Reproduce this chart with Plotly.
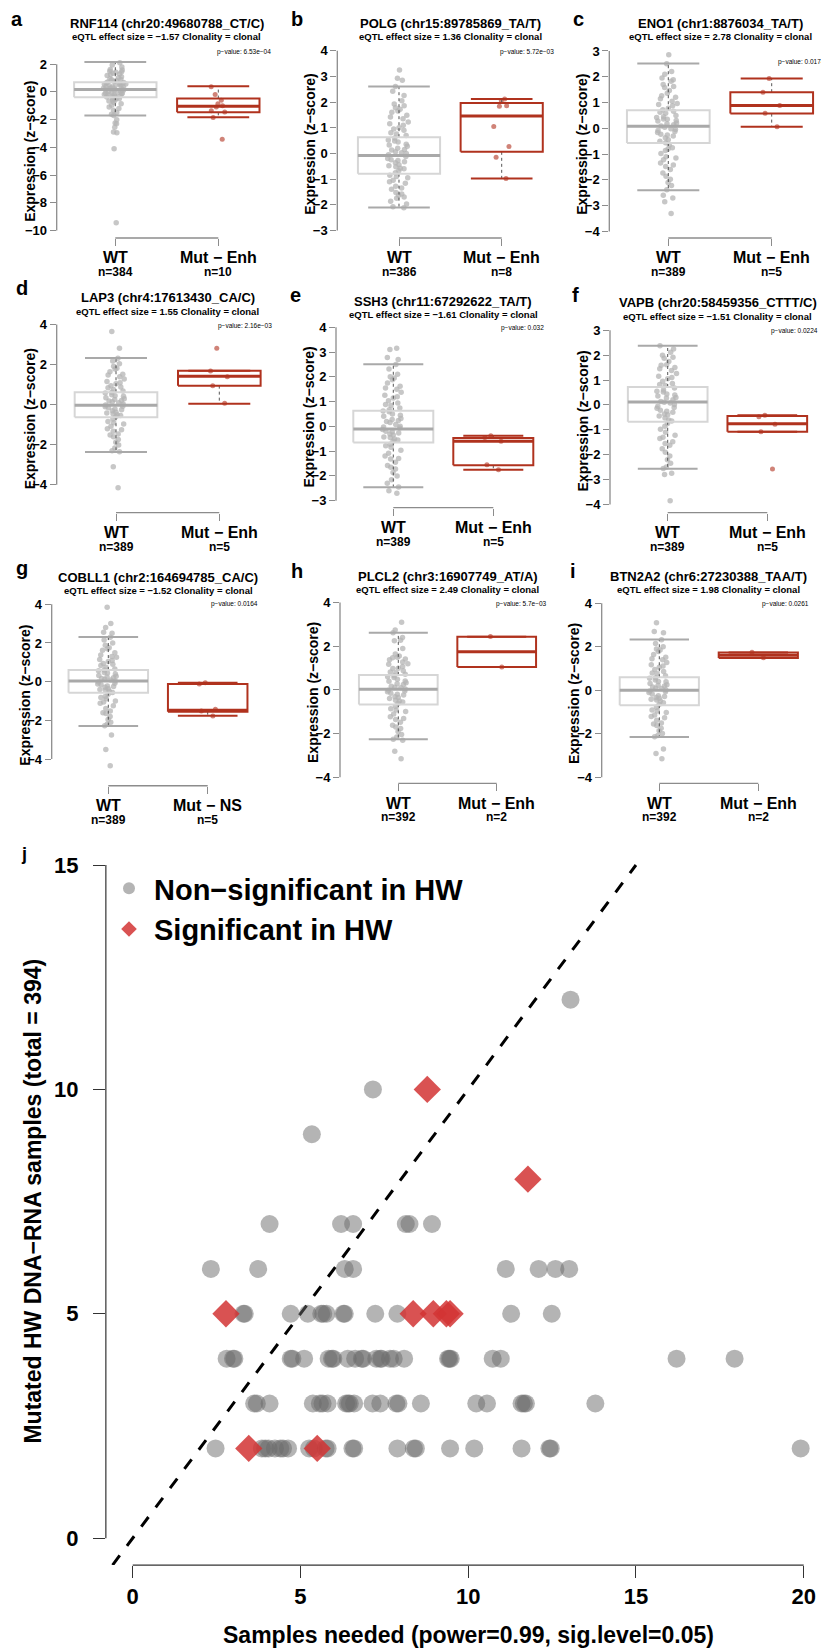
import plotly.graph_objects as go

# page is 829x1651; the browser adds an 8px body margin, so the figure is drawn 8px in
PAGE_W, PAGE_H, OFF = 829, 1651, 8
W, H = PAGE_W - OFF, PAGE_H - OFF
FONT = "Liberation Sans, Arial, Helvetica, sans-serif"

# ------------------------------------------------------------------ data
letters = ["a", "b", "c", "d", "e", "f", "g", "h", "i"]
genes = ["RNF114 (chr20:49680788_CT/C)", "POLG (chr15:89785869_TA/T)", "ENO1 (chr1:8876034_TA/T)",
         "LAP3 (chr4:17613430_CA/C)", "SSH3 (chr11:67292622_TA/T)", "VAPB (chr20:58459356_CTTT/C)",
         "COBLL1 (chr2:164694785_CA/C)", "PLCL2 (chr3:16907749_AT/A)", "BTN2A2 (chr6:27230388_TAA/T)"]
effects = ["−1.57", "1.36", "2.78", "1.55", "−1.61", "−1.51", "−1.52", "2.49", "1.98"]
pvalues = ["6.53e−04", "5.72e−03", "0.0174", "2.16e−03", "0.032", "0.0224", "0.0164", "5.7e−03", "0.0261"]
group_labels = ["WT", "Mut − Enh"]
mut_labels = ["Mut − Enh", "Mut − Enh", "Mut − Enh", "Mut − Enh", "Mut − Enh", "Mut − Enh",
              "Mut − NS", "Mut − Enh", "Mut − Enh"]
n_wt = [384, 386, 389, 389, 389, 389, 389, 392, 392]
n_mut = [10, 8, 5, 5, 5, 5, 5, 2, 2]
y_ticks = [[-10, -8, -6, -4, -2, 0, 2], [-3, -2, -1, 0, 1, 2, 3, 4], [-4, -3, -2, -1, 0, 1, 2, 3],
           [-4, -2, 0, 2, 4], [-3, -2, -1, 0, 1, 2, 3, 4], [-4, -3, -2, -1, 0, 1, 2, 3],
           [-4, -2, 0, 2, 4], [-4, -2, 0, 2, 4], [-4, -2, 0, 2, 4]]

# box statistics: (lower whisker, q1, median, q3, upper whisker)
wt_stats = [(-1.71, -0.38, 0.17, 0.70, 2.16), (-2.11, -0.79, -0.08, 0.63, 2.60),
            (-2.40, -0.57, 0.08, 0.70, 2.51), (-2.36, -0.63, -0.03, 0.62, 2.33),
            (-2.46, -0.65, -0.11, 0.63, 2.51), (-2.57, -0.68, 0.12, 0.72, 2.38),
            (-2.29, -0.57, 0.03, 0.60, 2.31), (-2.26, -0.66, 0.03, 0.69, 2.62),
            (-2.14, -0.69, 0.00, 0.60, 2.33)]
mut_stats = [(-1.83, -1.47, -1.03, -0.48, 0.41), (-0.98, 0.06, 1.46, 1.96, 2.12),
             (0.06, 0.57, 0.88, 1.40, 1.93), (0.05, 0.95, 1.42, 1.70, 1.70),
             (-1.75, -1.57, -0.60, -0.47, -0.38), (-1.08, -1.08, -0.76, -0.45, -0.42),
             (-1.76, -1.55, -1.48, -0.12, -0.05), (1.05, 1.05, 1.75, 2.44, 2.44),
             (1.48, 1.48, 1.61, 1.74, 1.74)]

mut_values = [[0.38, -0.18, -0.60, -0.85, -1.00, -1.08, -1.35, -1.45, -1.85, -3.42],
              [2.12, 2.05, 1.85, 1.84, 1.05, 0.27, -0.15, -0.98],
              [1.93, 1.40, 0.88, 0.58, 0.06],
              [2.82, 1.68, 1.40, 0.95, 0.07],
              [-0.38, -0.45, -0.60, -1.55, -1.75],
              [-0.42, -0.48, -0.78, -1.08, -2.58],
              [-0.05, -0.12, -1.42, -1.52, -1.78],
              [2.45, 1.05],
              [1.75, 1.50]]

wt_values = [
    [2.10, 1.95, 1.80, 1.62, 1.50, 1.42, 1.35, 1.25, 1.18, 1.10, 1.02, 0.95, 0.88, 0.82, 0.76, 0.72,
     0.68, 0.62, 0.58, 0.52, 0.47, 0.42, 0.38, 0.33, 0.29, 0.25, 0.21, 0.18,
     0.15, 0.10, 0.05, 0.01, -0.04, -0.09, -0.14, -0.19, -0.24, -0.29, -0.33, -0.37,
     -0.42, -0.50, -0.58, -0.66, -0.75, -0.85, -0.96, -1.08, -1.20, -1.33, -1.48, -1.62, -1.70,
     -2.00, -2.25, -2.30, -2.55, -2.90, -2.95, -4.10, -9.45, 1.45, 0.55, 0.35, -0.10, -0.30, 0.90,
     1.30, 0.64, 0.44, 0.27, 0.12, -0.02, -0.21, -0.45, -0.62, 1.58],
    [2.60, 2.42, 2.25, 2.05, 1.92, 1.85, 1.72, 1.60, 1.48, 1.35, 1.22, 1.10, 1.00, 0.90, 0.80, 0.70,
     3.25, 2.93, 2.85, 0.60, 0.52, 0.44, 0.36, 0.28, 0.20, 0.13, 0.06, 0.00, -0.05,
     -0.12, -0.20, -0.28, -0.36, -0.44, -0.52, -0.60, -0.68, -0.75,
     -0.85, -0.95, -1.05, -1.16, -1.28, -1.40, -1.52, -1.63, -1.75, -1.86, -1.97, -2.08, -2.12,
     0.48, 0.15, -0.33, -0.58, 1.15, -1.10, 1.78, -1.70, 0.95, 1.42, 0.33, -0.25, -0.90, -1.35,
     0.75, 0.02, -0.48, 1.65, -1.58],
    [2.50, 2.20, 2.10, 1.95, 1.82, 1.70, 1.58, 1.47, 1.36, 1.26, 1.15, 1.05, 0.96, 0.87, 0.78, 0.72,
     2.85, 0.66, 0.58, 0.50, 0.42, 0.35, 0.28, 0.21, 0.14, 0.09, 0.04, -0.02, -0.09, -0.16, -0.23,
     -0.30, -0.37, -0.44, -0.50, -0.56, 0.30, -0.12,
     -0.65, -0.75, -0.86, -0.98, -1.10, -1.22, -1.35, -1.48, -1.60, -1.73, -1.86, -1.98, -2.10,
     -2.22, -2.38, -2.60, -2.70, -2.85, -3.30, 1.62, -1.42, 0.45, 1.20, 0.62, 0.18, -0.26, -0.80,
     1.88, -0.05, 0.92, -1.15, 0.36],
    [2.32, 2.18, 2.05, 1.92, 1.78, 1.65, 1.52, 1.40, 1.28, 1.16, 1.05, 0.95, 0.85, 0.76, 0.68,
     3.65, 2.82, 0.58, 0.50, 0.42, 0.34, 0.26, 0.18, 0.10, 0.03, -0.02, -0.08, -0.15, -0.22, -0.30,
     -0.38, -0.46, -0.54, -0.61, 0.21, -0.26,
     -0.72, -0.84, -0.96, -1.08, -1.20, -1.33, -1.46, -1.60, -1.74, -1.88, -2.02, -2.16, -2.30,
     -2.35, -3.10, -4.15, 1.10, -1.25, 0.45, -0.50, 1.48, 0.62, 0.14, -0.11, -0.42, -0.90, 1.82,
     -1.52, 0.30, 0.88],
    [2.50, 2.32, 2.10, 2.00, 1.88, 1.75, 1.62, 1.50, 1.38, 1.26, 1.15, 1.04, 0.94, 0.84, 0.74, 0.67,
     3.15, 3.10, 2.78, 2.70, 0.59, 0.50, 0.41, 0.32, 0.24, 0.16, 0.08, 0.01, -0.06, -0.13, -0.20,
     -0.27, -0.35, -0.43, -0.51, -0.59, 0.20, -0.31,
     -0.72, -0.84, -0.96, -1.08, -1.20, -1.32, -1.45, -1.58, -1.72, -1.86, -2.00, -2.15, -2.30,
     -2.45, -2.60, -2.70, 1.20, -1.30, 0.45, -0.45, 1.55, 0.88, 0.28, -0.02, -0.22, -0.78, 1.95,
     -1.65, 0.62, -0.55],
    [2.38, 2.25, 2.12, 2.00, 1.88, 1.75, 1.62, 1.50, 1.38, 1.26, 1.15, 1.05, 0.95, 0.86, 0.78,
     0.68, 0.60, 0.52, 0.44, 0.36, 0.28, 0.21, 0.14, 0.08, 0.02, -0.05, -0.13, -0.21, -0.29, -0.37,
     -0.45, -0.53, -0.61, 0.40, -0.25,
     -0.75, -0.86, -0.98, -1.10, -1.22, -1.35, -1.48, -1.62, -1.76, -1.90, -2.05, -2.20, -2.35,
     -2.50, -2.56, -2.75, -2.80, -3.85, 1.45, -1.55, 0.30, -0.40, 1.60, 1.10, 0.55, 0.11, -0.10,
     -0.65, 1.92, -1.30, 0.82],
    [2.30, 2.15, 2.00, 1.88, 1.75, 1.62, 1.50, 1.38, 1.26, 1.15, 1.04, 0.94, 0.84, 0.75, 0.66,
     3.85, 3.00, 2.80, 2.55, 2.50, 0.56, 0.48, 0.40, 0.32, 0.24, 0.16, 0.09, 0.04, -0.02, -0.08,
     -0.15, -0.22, -0.29, -0.36, -0.43, -0.50, -0.56, 0.20, -0.25,
     -0.65, -0.76, -0.88, -1.00, -1.12, -1.25, -1.38, -1.51, -1.65, -1.80, -1.95, -2.10, -2.20,
     -2.28, -2.75, -3.50, -4.35, 1.30, -1.60, 0.45, 1.70, 0.90, 0.12, -0.12, -0.40, -0.82, 1.10,
     0.60, -1.05, 0.28],
    [2.62, 2.40, 2.28, 2.25, 1.90, 1.65, 1.55, 1.48, 1.38, 1.28, 1.18, 1.08, 0.98, 0.88, 0.79, 0.72,
     3.10, 2.75, 0.65, 0.57, 0.49, 0.41, 0.33, 0.25, 0.17, 0.10, 0.05, -0.01, -0.08, -0.15, -0.23,
     -0.31, -0.39, -0.47, -0.55, -0.62, 0.28, -0.20,
     -0.74, -0.86, -0.98, -1.10, -1.22, -1.35, -1.48, -1.62, -1.76, -1.90, -2.04, -2.15, -2.25,
     -2.30, -2.80, -3.15, 1.50, 1.42, -1.70, 0.40, 1.20, 0.82, 0.13, -0.05, -0.35, -0.92, 0.60,
     -1.30, 1.00, -0.50],
    [2.32, 2.15, 2.00, 1.90, 1.78, 1.65, 1.52, 1.40, 1.28, 1.17, 1.06, 0.96, 0.86, 0.76, 0.67,
     3.10, 2.70, 2.65, 0.55, 0.47, 0.39, 0.31, 0.23, 0.15, 0.08, 0.02, -0.03, -0.10, -0.17, -0.25,
     -0.33, -0.41, -0.49, -0.57, -0.65, 0.20, -0.28,
     -0.78, -0.90, -1.02, -1.14, -1.26, -1.38, -1.50, -1.62, -1.74, -1.86, -1.98, -2.08, -2.13,
     -2.70, -2.90, -3.15, 1.85, -1.20, 0.40, -0.45, 1.45, 0.80, 0.10, -0.07, -0.37, -0.95, 1.12,
     -1.55, 0.58, 0.26],
]

# panel j data
ns_x = [2.47, 3.85, 3.95, 4.05, 4.24, 4.40, 4.48, 4.63, 5.26, 5.40, 5.75, 5.81, 6.55, 6.60, 7.89,
        8.38, 8.44, 9.46, 10.18, 11.59, 12.42, 12.46, 19.91,
        3.62, 3.70, 4.08, 5.37, 5.58, 5.66, 5.81, 6.36, 6.42, 6.47, 6.60, 7.15, 7.38, 7.86, 7.92,
        8.59, 10.24, 10.56, 11.59, 11.66, 11.72, 13.79,
        2.80, 2.99, 3.03, 4.71, 4.76, 5.11, 5.84, 5.94, 5.98, 6.41, 6.63, 6.83, 6.87, 7.26, 7.38,
        7.42, 7.67, 7.78, 8.09, 9.40, 9.44, 9.48, 10.73, 10.97, 16.21, 17.94,
        3.30, 3.34, 4.71, 5.22, 5.62, 5.68, 5.78, 6.28, 6.32, 7.23, 7.89, 11.28, 12.49,
        2.33, 3.74, 6.32, 6.57, 11.12, 12.10, 12.60, 13.01,
        4.08, 6.21, 6.57, 8.14, 8.25, 8.92,
        5.34, 7.16, 13.05]
ns_y = [2] * 23 + [3] * 22 + [4] * 26 + [5] * 13 + [6] * 8 + [7] * 6 + [9, 10, 12]
sig_x = [2.78, 8.36, 8.96, 9.35, 9.46, 3.46, 5.50, 11.78, 8.78]
sig_y = [5, 5, 5, 5, 5, 2, 2, 8, 10]
j_xticks = [0, 5, 10, 15, 20]
j_yticks = [0, 5, 10, 15]
j_xrange = [-0.8, 20.6]
j_yrange = [-0.6, 15.6]

# ------------------------------------------------------------------ geometry (page pixels)
geom = [
    dict(ax=56.7, c1=115.3, c2=218.3, tt=64.3, tb=230.7, br=238.3, ti=23.3, su=36.5, pv=51.7, lx=17.3, ly=19.0),
    dict(ax=337.3, c1=399.0, c2=501.7, tt=50.7, tb=230.7, br=238.3, ti=23.3, su=36.5, pv=51.7, lx=296.7, ly=19.0),
    dict(ax=609.3, c1=668.3, c2=771.7, tt=51.0, tb=231.7, br=238.3, ti=23.3, su=36.5, pv=62.5, lx=578.3, ly=19.0),
    dict(ax=56.7, c1=116.0, c2=219.3, tt=325.0, tb=485.3, br=513.3, ti=297.5, su=311.5, pv=326.7, lx=21.7, ly=288.3),
    dict(ax=336.0, c1=393.3, c2=493.3, tt=327.7, tb=501.3, br=508.3, ti=301.7, su=315.0, pv=328.3, lx=295.0, ly=295.0),
    dict(ax=610.0, c1=667.7, c2=767.3, tt=330.7, tb=505.0, br=513.3, ti=303.3, su=317.3, pv=331.7, lx=575.0, ly=295.0),
    dict(ax=51.7, c1=108.3, c2=207.7, tt=605.0, tb=760.0, br=786.7, ti=578.3, su=591.7, pv=605.0, lx=21.7, ly=568.3),
    dict(ax=340.0, c1=398.3, c2=496.7, tt=603.3, tb=778.3, br=784.3, ti=576.7, su=590.0, pv=605.0, lx=296.7, ly=571.7),
    dict(ax=601.7, c1=659.3, c2=758.3, tt=604.0, tb=778.3, br=784.3, ti=576.7, su=590.0, pv=605.0, lx=573.3, ly=571.7),
]


def PX(x):
    return (x - OFF) / W


def PY(y):
    return 1 - (y - OFF) / H


WT_PT = "rgba(180,180,180,0.75)"
WT_BOX = "#d6d6d6"
WT_MED = "#a9a9a9"
MUT_COL = "#b0321e"
MUT_PT = "rgba(196,100,86,0.8)"
WHISK = "#555555"
AXG = "#8c8c8c"

fig = go.Figure()
annotations = []
shapes = []
layout = {}
XHI = 2.55
HW, CW = 0.4, 0.3


def note(text, x, y, size, xref="paper", yref="paper", xanchor="center", angle=0, color="black"):
    return dict(text=text, x=x, y=y, xref=xref, yref=yref, xanchor=xanchor, yanchor="middle",
                textangle=angle, showarrow=False, font=dict(family=FONT, size=size, color=color))


def box_traces(c, st, box_col, med_col, cap_col, xa, ya):
    lf, q1, med, q3, uf = st
    out = []
    out.append(go.Scatter(x=[c, c, None, c, c], y=[q3, uf, None, q1, lf], mode="lines",
                          line=dict(color=WHISK, width=1, dash="3px,3px"),
                          xaxis=xa, yaxis=ya, showlegend=False, hoverinfo="skip"))
    out.append(go.Scatter(x=[c - CW, c + CW, None, c - CW, c + CW], y=[uf, uf, None, lf, lf], mode="lines",
                          line=dict(color=cap_col, width=2), xaxis=xa, yaxis=ya,
                          showlegend=False, hoverinfo="skip"))
    out.append(go.Scatter(x=[c - HW, c + HW, c + HW, c - HW, c - HW], y=[q1, q1, q3, q3, q1], mode="lines",
                          line=dict(color=box_col, width=2), xaxis=xa, yaxis=ya,
                          showlegend=False, hoverinfo="skip"))
    out.append(go.Scatter(x=[c - HW, c + HW], y=[med, med], mode="lines",
                          line=dict(color=med_col, width=3), xaxis=xa, yaxis=ya,
                          showlegend=False, hoverinfo="skip"))
    return out


for k in range(9):
    g = geom[k]
    sid = "" if k == 0 else str(k + 1)
    xa, ya = "x" + sid, "y" + sid
    unit = g["c2"] - g["c1"]
    x_lo = 1 - (g["c1"] - g["ax"]) / unit
    x_right_px = g["c1"] + (XHI - 1) * unit
    tmax, tmin = max(y_ticks[k]), min(y_ticks[k])
    ppu = (g["tb"] - g["tt"]) / (tmax - tmin)
    y_lo = tmin - (g["br"] - g["tb"]) / ppu
    y_hi = tmax + 8 / ppu

    layout["xaxis" + sid] = dict(domain=[PX(g["ax"]), min(1.0, PX(x_right_px))], range=[x_lo, XHI], anchor=ya,
                                 tickvals=[1, 2], showticklabels=False,
                                 ticks="outside", ticklen=7, tickwidth=1.3, tickcolor=AXG,
                                 showline=False, showgrid=False, zeroline=False)
    layout["yaxis" + sid] = dict(domain=[PY(g["br"]), PY(g["tt"] - 8)], range=[y_lo, y_hi], anchor=xa,
                                 tickvals=y_ticks[k], ticks="outside", ticklen=6, tickwidth=1.3,
                                 tickcolor=AXG, showline=False, showgrid=False, zeroline=False,
                                 tickfont=dict(family=FONT, size=13, color="black", weight="bold"))
    # points
    fig.add_trace(go.Box(y=wt_values[k], x0=1, width=0.8, boxpoints="all", jitter=0.3, pointpos=0,
                         fillcolor="rgba(0,0,0,0)", line=dict(width=0, color="rgba(0,0,0,0)"),
                         marker=dict(color=WT_PT, size=5.5), xaxis=xa, yaxis=ya,
                         showlegend=False, hoverinfo="skip"))
    fig.add_trace(go.Box(y=mut_values[k], x0=2, width=0.8, boxpoints="all", jitter=0.25, pointpos=0,
                         fillcolor="rgba(0,0,0,0)", line=dict(width=0, color="rgba(0,0,0,0)"),
                         marker=dict(color=MUT_PT, size=5), xaxis=xa, yaxis=ya,
                         showlegend=False, hoverinfo="skip"))
    for t in box_traces(1, wt_stats[k], WT_BOX, WT_MED, WT_MED, xa, ya):
        fig.add_trace(t)
    for t in box_traces(2, mut_stats[k], MUT_COL, MUT_COL, MUT_COL, xa, ya):
        fig.add_trace(t)

    # axis lines (R style)
    shapes.append(dict(type="line", xref=xa + " domain", yref=ya, x0=0, x1=0, y0=tmin, y1=tmax,
                       line=dict(color=AXG, width=1.3)))
    shapes.append(dict(type="line", xref=xa, yref=ya + " domain", x0=1, x1=2, y0=0, y1=0,
                       line=dict(color=AXG, width=1.3)))
    # texts
    annotations.append(note("<b>%s</b>" % letters[k], PX(g["lx"]), PY(g["ly"]), 20))
    annotations.append(note("<b>%s</b>" % genes[k], 1.5, PY(g["ti"]), 13, xref=xa))
    annotations.append(note("<b>eQTL effect size = %s Clonality = clonal</b>" % effects[k], 1.5,
                            PY(g["su"]), 9.5, xref=xa))
    annotations.append(note("p−value: %s" % pvalues[k], XHI - 0.02, PY(g["pv"]), 6.5, xref=xa,
                            xanchor="right"))
    annotations.append(note("<b>Expression (z−score)</b>", PX(g["ax"] - 27), PY((g["tt"] + g["br"]) / 2),
                            14, angle=-90))
    for xc, lab, n in ((1, group_labels[0], n_wt[k]), (2, mut_labels[k], n_mut[k])):
        annotations.append(note("<b>%s</b>" % lab, xc, PY(g["br"] + 20), 16, xref=xa))
        annotations.append(note("<b>n=%d</b>" % n, xc, PY(g["br"] + 34), 12, xref=xa))

# ------------------------------------------------------------------ panel j
xa, ya = "x10", "y10"
x0px, upx = 132.7, 33.55
y0px, upy = 1540.0, 44.93
j_left, j_right = x0px + j_xrange[0] * upx, x0px + 20.8 * upx
j_bottom, j_top = y0px - j_yrange[0] * upy, y0px - j_yrange[1] * upy
layout["xaxis10"] = dict(domain=[PX(j_left), min(1.0, PX(x0px + j_xrange[1] * upx))],
                         range=j_xrange,
                         anchor=ya, tickvals=j_xticks, ticks="outside", ticklen=12, tickwidth=1.2,
                         tickcolor="#333", showline=False, showgrid=False, zeroline=False,
                         tickfont=dict(family=FONT, size=22, color="black", weight="bold"))
layout["yaxis10"] = dict(domain=[PY(j_bottom), PY(j_top)], range=j_yrange,
                         anchor=xa, tickvals=j_yticks, ticks="outside", ticklen=12, tickwidth=1.2,
                         tickcolor="#333", showline=False, showgrid=False, zeroline=False,
                         ticklabelstandoff=10,
                         tickfont=dict(family=FONT, size=22, color="black", weight="bold"))
shapes.append(dict(type="line", xref=xa + " domain", yref=ya, x0=0, x1=0, y0=j_yticks[0], y1=j_yticks[-1],
                   line=dict(color="#333", width=1.2)))
shapes.append(dict(type="line", xref=xa, yref=ya + " domain", x0=j_xticks[0], x1=j_xticks[-1], y0=0, y1=0,
                   line=dict(color="#333", width=1.2)))

diag = [j_yrange[0], j_yticks[-1]]
fig.add_trace(go.Scatter(x=diag, y=diag, mode="lines", line=dict(color="black", width=3, dash="12px,12px"),
                         xaxis=xa, yaxis=ya, showlegend=False, hoverinfo="skip"))
fig.add_trace(go.Scatter(x=ns_x, y=ns_y, mode="markers", name="Non−significant in HW",
                         marker=dict(color="rgba(105,105,105,0.5)", size=18, line=dict(width=0)),
                         xaxis=xa, yaxis=ya))
fig.add_trace(go.Scatter(x=sig_x, y=sig_y, mode="markers", name="Significant in HW",
                         marker=dict(color="rgba(210,52,52,0.85)", size=21, symbol="diamond", line=dict(width=0)),
                         xaxis=xa, yaxis=ya))

annotations.append(note("<b>j</b>", PX(24), PY(855), 18))
annotations.append(note("<b>Mutated HW DNA−RNA samples (total = 394)</b>", PX(33), PY((j_bottom + j_top) / 2),
                        23, angle=-90))
annotations.append(note("<b>Samples needed (power=0.99, sig.level=0.05)</b>", PX((j_left + j_right) / 2),
                        PY(1637), 23))

fig.update_layout(
    width=W, height=H, margin=dict(l=0, r=0, t=0, b=0),
    paper_bgcolor="white", plot_bgcolor="white",
    annotations=annotations, shapes=shapes,
    legend=dict(x=PX(104), y=PY(864), xanchor="left", yanchor="top", bgcolor="rgba(0,0,0,0)",
                itemsizing="constant", itemwidth=40,
                font=dict(family=FONT, size=29, color="black", weight="bold")),
    font=dict(family=FONT),
    **layout,
)

fig.write_html("out.html")
